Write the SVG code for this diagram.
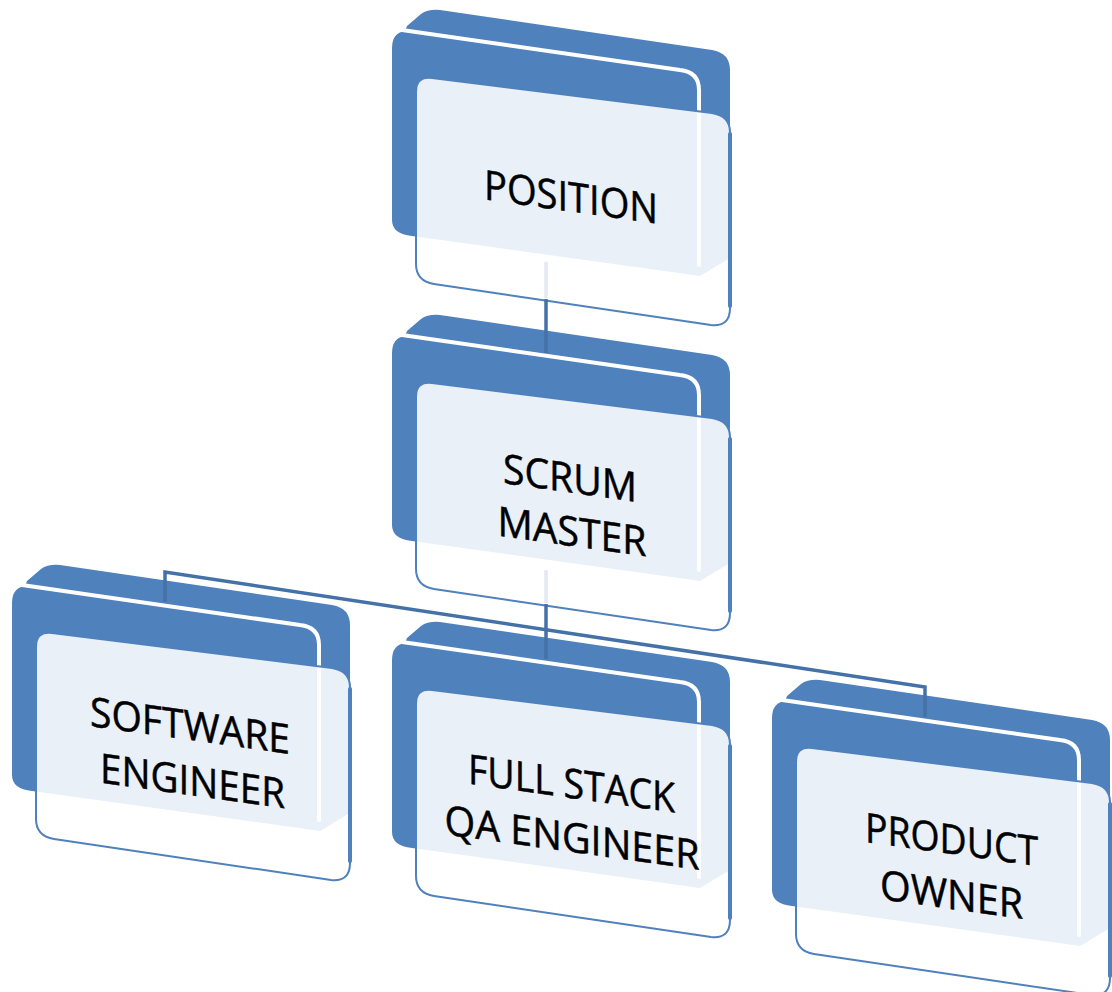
<svg xmlns="http://www.w3.org/2000/svg" xmlns:xlink="http://www.w3.org/1999/xlink" width="1112" height="992" viewBox="0 0 1112 992">
<style>
.back{fill:#4F81BD}
.hl{fill:none;stroke:#FFFFFF;stroke-width:4;stroke-linejoin:round;stroke-linecap:round}
.card{fill:#FFFFFF;fill-opacity:0.88;stroke:#4F81BD;stroke-width:2}
.side{fill:none;stroke:#4F81BD;stroke-width:4;stroke-linecap:round}
.lbl{font-family:"Open Sans","Liberation Sans",sans-serif;font-size:41px;fill:#000000;stroke:#000000;stroke-width:0.5;text-anchor:middle}
.conn{fill:none;stroke:#4471A8;stroke-width:3.5;stroke-linejoin:miter}
.faint{fill:none;stroke:#E2E9F3;stroke-width:3.5}
</style>
<defs>
<path id="backShape" d="M 392,48 Q 392,33 405,31 L 407,26 L 421,14 Q 428,9 440,10 L 712,50 Q 730,53 730,70 L 730,258 L 700,276 L 686,274 L 412,236 Q 392,234 392,220 Z"/>
<path id="hlLine" d="M 402,30 L 680,70 Q 699,72 699,90 L 699,265"/>
<path id="cardShape" d="M 416,92 Q 416,76 432,78 L 712,113 Q 730,116 730,132 L 730,308 Q 730,327 711,325 L 434,284 Q 416,281 416,264 Z"/>
</defs>
<rect width="1112" height="992" fill="#FFFFFF"/>

<g id="node-position">
<use xlink:href="#backShape" class="back"/>
<use xlink:href="#hlLine" class="hl"/>
<use xlink:href="#cardShape" class="card"/>
<line class="side" x1="730" y1="134" x2="730" y2="306"/>
<text class="lbl" transform="matrix(1,0.14,0,1,0,0)" x="571" y="131.6" textLength="174" lengthAdjust="spacingAndGlyphs">POSITION</text>
</g>

<g id="node-scrum">
<g transform="translate(0,305)">
<use xlink:href="#backShape" class="back"/>
<use xlink:href="#hlLine" class="hl"/>
<use xlink:href="#cardShape" class="card"/>
<line class="side" x1="730" y1="134" x2="730" y2="306"/>
</g>
<text class="lbl" transform="matrix(1,0.14,0,1,0,0)" x="570" y="412.7" textLength="134" lengthAdjust="spacingAndGlyphs">SCRUM</text>
<text class="lbl" transform="matrix(1,0.14,0,1,0,0)" x="572" y="465.9" textLength="149" lengthAdjust="spacingAndGlyphs">MASTER</text>
</g>

<g id="node-software">
<g transform="translate(-380,555)">
<use xlink:href="#backShape" class="back"/>
<use xlink:href="#hlLine" class="hl"/>
<use xlink:href="#cardShape" class="card"/>
<line class="side" x1="730" y1="134" x2="730" y2="306"/>
</g>
<text class="lbl" transform="matrix(1,0.14,0,1,0,0)" x="190" y="713.4" textLength="200" lengthAdjust="spacingAndGlyphs">SOFTWARE</text>
<text class="lbl" transform="matrix(1,0.14,0,1,0,0)" x="192.5" y="768.5" textLength="185" lengthAdjust="spacingAndGlyphs">ENGINEER</text>
</g>

<g id="node-fullstack">
<g transform="translate(0,612)">
<use xlink:href="#backShape" class="back"/>
<use xlink:href="#hlLine" class="hl"/>
<use xlink:href="#cardShape" class="card"/>
<line class="side" x1="730" y1="134" x2="730" y2="306"/>
</g>
<text class="lbl" transform="matrix(1,0.14,0,1,0,0)" x="571.5" y="718" textLength="207" lengthAdjust="spacingAndGlyphs">FULL STACK</text>
<text class="lbl" transform="matrix(1,0.14,0,1,0,0)" x="572" y="771.9" textLength="255" lengthAdjust="spacingAndGlyphs">QA ENGINEER</text>
</g>

<g id="node-product">
<g transform="translate(380,670)">
<use xlink:href="#backShape" class="back"/>
<use xlink:href="#hlLine" class="hl"/>
<use xlink:href="#cardShape" class="card"/>
<line class="side" x1="730" y1="134" x2="730" y2="306"/>
</g>
<text class="lbl" transform="matrix(1,0.14,0,1,0,0)" x="951.5" y="720.8" textLength="173" lengthAdjust="spacingAndGlyphs">PRODUCT</text>
<text class="lbl" transform="matrix(1,0.14,0,1,0,0)" x="951.5" y="775.8" textLength="143" lengthAdjust="spacingAndGlyphs">OWNER</text>
</g>

<g id="connectors">
<line class="faint" x1="546" y1="262" x2="546" y2="298"/>
<line class="conn" x1="546" y1="299" x2="546" y2="353"/>
<line class="faint" x1="546" y1="570" x2="546" y2="603"/>
<line class="conn" x1="546" y1="604" x2="546" y2="659"/>
<path class="conn" d="M 165,602 L 165,572 L 925,687 L 925,717"/>
</g>
</svg>
